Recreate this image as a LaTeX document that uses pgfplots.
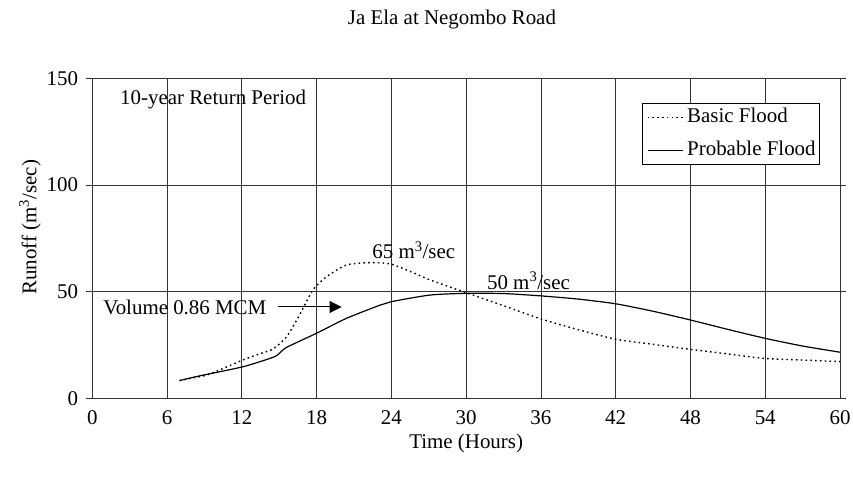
\documentclass[border=0pt]{standalone}
\usepackage{fontspec}
\setmainfont{Liberation Serif}
\usepackage{pgfplots}
\pgfplotsset{compat=1.18}
\usetikzlibrary{arrows.meta}
\begin{document}
\fontsize{21}{25}\selectfont
\begin{tikzpicture}[font=\fontsize{21}{25}\selectfont]
\useasboundingbox (-92.3bp,-78.7bp) rectangle (760.7bp,398.3bp);
\begin{axis}[
  at={(0,0)}, anchor=south west,
  scale only axis, width=747.7bp, height=320bp,
  xmin=0, xmax=60, ymin=0, ymax=150,
  xtick={0,6,...,60}, ytick={0,50,100,150},
  grid=major, major grid style={black!80, line width=0.8bp},
  axis line style={black!80, line width=1bp},
  tick align=outside, major tick length=6bp,
  xtick style={draw=none}, ytick style={black!80, line width=0.8bp},
  /pgf/number format/assume math mode=true,
  xticklabel style={anchor=center, yshift=-13bp},
  yticklabel style={anchor=east, inner sep=0bp, xshift=-8bp},
  xlabel={Time (Hours)},
  xlabel style={at={(axis description cs:0.5,-0.142)}, anchor=center},
  ylabel={Runoff (m\textsuperscript{3}/sec)},
  ylabel style={at={(axis description cs:-0.0833,0.535)}, anchor=center},
  title={Ja Ela at Negombo Road},
  title style={at={(axis description cs:0.481,1.165)}, anchor=center},
  clip=false,
  legend style={at={(0.9733,0.9228)}, anchor=north east, draw=black, line width=0.8bp,
    fill=white, inner sep=4bp, row sep=13bp, column sep=4bp,
    nodes={inner sep=0bp, text height=15bp, text depth=5bp}},
  legend cell align=left,
  legend image code/.code={\draw[#1] (0bp,0bp) -- (35bp,0bp);},
]
\addplot[black, line width=1.4bp, dash pattern=on 1.6bp off 3.2bp, smooth, tension=0.4] coordinates {
(7.0,8.3) (8,9.5) (9.2,10.9) (10.5,14) (12.1,18) (13.5,21) (14.5,23.1) (15.6,28.9)
(16.7,39.8) (17.7,50.8) (18.8,57) (20.4,62.5) (22.3,63.6) (23.9,63) (25.5,59.5)
(27.1,55.5) (30.0,49.5) (33.2,43) (36.0,37.2) (39.1,32) (42.0,27.7) (45,25.3)
(47.9,23) (51,20.8) (53.9,18.7) (56.7,18) (60,17.2)};
\addlegendentry{Basic Flood}
\addplot[black, line width=1.2bp, smooth, tension=0.4] coordinates {
(7.0,8.3) (8.6,10.5) (12.1,14.8) (14.5,19.2) (15.0,21.0) (15.6,23.9) (18,30.5)
(20.4,37.5) (23.1,43.7) (24,45.3) (27.1,48.4) (30,49.2) (33,49.1) (36,48)
(39,46.5) (42,44.3) (45,40.8) (48,36.7) (51,32.3) (54,28.1) (57,24.5) (60,21.6)};
\addlegendentry{Probable Flood}
\node[anchor=west, inner sep=0bp] at (axis cs:2.22,139.9) {10-year Return Period};
\node[anchor=west, inner sep=0bp] at (axis cs:0.87,42.8) {Volume 0.86 MCM};
\draw[black, line width=1bp, -{Triangle[length=12bp,width=12bp]}] (axis cs:14.9,42.8) -- (axis cs:20.0,42.8);
\node[inner sep=0bp] at (axis cs:25.8,69.5) {65 m\textsuperscript{3}/sec};
\node[inner sep=0bp] at (axis cs:35.0,55) {50 m\textsuperscript{3}/sec};
\end{axis}
\end{tikzpicture}
\end{document}
